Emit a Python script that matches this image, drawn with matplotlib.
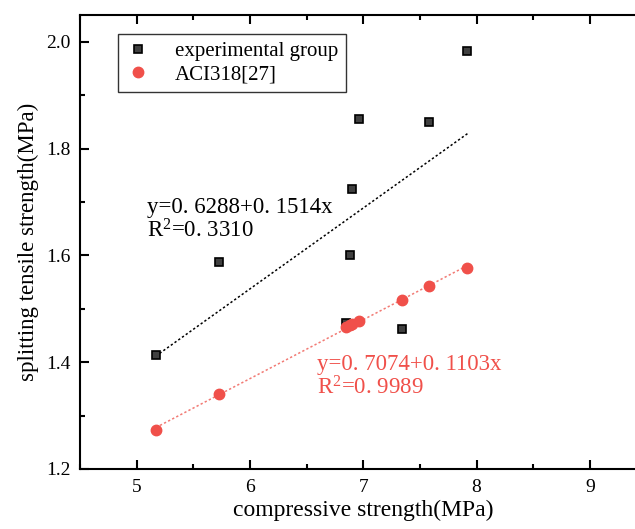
import matplotlib
matplotlib.use("Agg")
import matplotlib.pyplot as plt
from matplotlib.ticker import MultipleLocator

# compressive strength (MPa) of the specimens
comp = [5.17, 5.73, 6.85, 6.88, 6.90, 6.96, 7.34, 7.58, 7.92]
# measured splitting tensile strength (MPa)
exp_y = [1.414, 1.587, 1.473, 1.600, 1.725, 1.855, 1.462, 1.849, 1.983]
# ACI318 predicted values (MPa)
aci_y = [1.273, 1.340, 1.466, 1.469, 1.471, 1.477, 1.517, 1.542, 1.576]

exp_fit = (0.6288, 0.1514)
aci_fit = (0.7074, 0.1103)
exp_label = "y=0. 6288+0. 1514x\nR$^{2}$=0. 3310"
aci_label = "y=0. 7074+0. 1103x\nR$^{2}$=0. 9989"

RED = "#F0504A"

plt.rcParams["font.family"] = ["Liberation Serif", "DejaVu Serif"]
plt.rcParams["mathtext.fontset"] = "custom"
plt.rcParams["mathtext.rm"] = "Liberation Serif"
plt.rcParams["mathtext.it"] = "Liberation Serif"
plt.rcParams["mathtext.default"] = "regular"

W, H = 635, 529
fig = plt.figure(figsize=(W / 100, H / 100), dpi=100)
# right edge of the axes runs past the picture edge (cropped original)
ax = fig.add_axes([80 / W, 60 / H, 566.5 / W, 454 / H])

xs = [min(comp), max(comp)]
ax.plot(xs, [exp_fit[0] + exp_fit[1] * x for x in xs], color="black",
        ls=(0, (1.5, 1.5)), lw=1.1, zorder=2)
ax.plot(xs, [aci_fit[0] + aci_fit[1] * x for x in xs], color="#F27A74",
        ls=(0, (1.5, 1.5)), lw=1.1, zorder=2)

ax.plot(comp, exp_y, "s", ms=5.5, mfc="#404040", mec="black", mew=1.2,
        ls="none", label="experimental group", zorder=3)
ax.plot(comp, aci_y, "o", ms=7.5, color=RED, mec=RED, ls="none",
        label="ACI318[27]", zorder=4)

ax.text(5.09, 1.667, exp_label, fontsize=16.5, va="center", ha="left",
        linespacing=1.05)
ax.text(6.59, 1.373, aci_label, fontsize=16.5, va="center", ha="left",
        color=RED, linespacing=1.05)

ax.set_xlim(4.5, 9.5)
ax.set_ylim(1.2, 2.05)
ax.xaxis.set_major_locator(MultipleLocator(1))
ax.xaxis.set_minor_locator(MultipleLocator(0.5))
ax.yaxis.set_major_locator(MultipleLocator(0.2))
ax.yaxis.set_minor_locator(MultipleLocator(0.1))
ax.tick_params(which="both", direction="in", top=True, right=True,
               width=1.5, labelsize=14, pad=7)
ax.tick_params(which="major", length=6.5)
ax.tick_params(which="minor", length=3.5)
for s in ax.spines.values():
    s.set_linewidth(1.5)

ax.set_xlabel("compressive strength(MPa)", fontsize=17, labelpad=3)
ax.set_ylabel("splitting tensile strength(MPa)", fontsize=16.5, labelpad=5)

leg = ax.legend(loc="upper left", bbox_to_anchor=(118 / W, 1 - 34 / H),
                bbox_transform=fig.transFigure, borderaxespad=0,
                fancybox=False, frameon=True, fontsize=15, handlelength=1.2,
                handletextpad=1.2, borderpad=0.35, labelspacing=0.2)
leg.get_frame().set_edgecolor("black")
leg.get_frame().set_linewidth(1.0)

fig.savefig("out.png", dpi=100)
